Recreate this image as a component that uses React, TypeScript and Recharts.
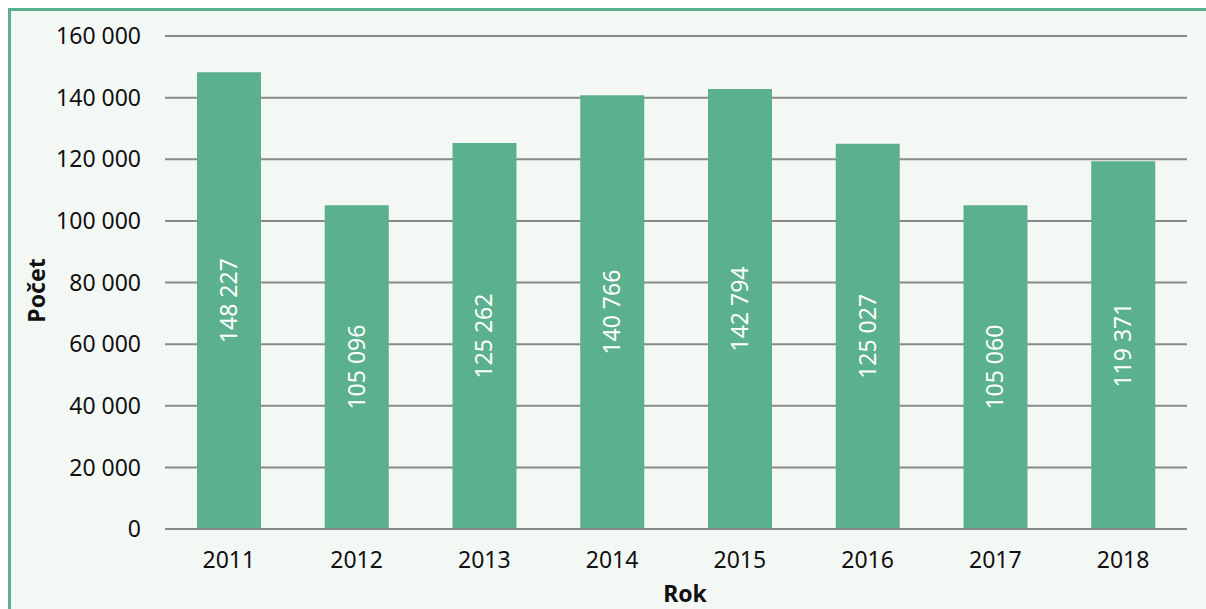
import React from 'react';
import { BarChart, Bar, XAxis, YAxis, CartesianGrid, LabelList, Label } from 'recharts';

const years = ['2011', '2012', '2013', '2014', '2015', '2016', '2017', '2018'];
const counts = [148227, 105096, 125262, 140766, 142794, 125027, 105060, 119371];
const yTicks = [0, 20000, 40000, 60000, 80000, 100000, 120000, 140000, 160000];

const data = years.map((y, i) => ({ year: y, count: counts[i] }));

const fmt = (v: number) => String(v).replace(/\B(?=(\d{3})+(?!\d))/g, ' ');

const FONT = '"Noto Sans", sans-serif';
const GREEN = '#5bb18d';

const BarValue = (props: any) => {
  const { x, y, width, height, value } = props;
  const cx = x + width / 2;
  const cy = y + height / 2;
  return (
    <text
      x={cx}
      y={cy}
      transform={`rotate(-90 ${cx} ${cy})`}
      textAnchor="middle"
      dy={8}
      fill="#ffffff"
      fontSize={23}
      fontFamily={FONT}
    >
      {fmt(value)}
    </text>
  );
};

const YLabel = (props: any) => {
  const vb = props.viewBox;
  const cx = vb.x + 34;
  const cy = vb.y + vb.height / 2 + 8;
  return (
    <text
      x={cx}
      y={cy}
      transform={`rotate(-90 ${cx} ${cy})`}
      textAnchor="middle"
      fontWeight="bold"
      fontSize={23}
      fill="#111"
      fontFamily={FONT}
    >
      Počet
    </text>
  );
};

const XLabel = (props: any) => {
  const vb = props.viewBox;
  return (
    <text
      x={vb.x + vb.width / 2 + 9}
      y={591}
      textAnchor="middle"
      fontWeight="bold"
      fontSize={23}
      fill="#111"
      fontFamily={FONT}
    >
      Rok
    </text>
  );
};

export default function App() {
  return (
    <div
      style={{
        position: 'fixed',
        left: 8,
        top: 8,
        right: 0,
        bottom: 0,
        overflow: 'hidden',
        borderTop: `3px solid ${GREEN}`,
        borderLeft: `3px solid ${GREEN}`,
        borderRight: 'none',
        borderBottom: 'none',
        background: '#f4f8f5',
        fontFamily: FONT,
      }}
    >
      <BarChart
        width={1195}
        height={598}
        data={data}
        margin={{ top: 25, right: 19, left: 0, bottom: 0 }}
        barSize={64}
      >
        <CartesianGrid vertical={false} stroke="#8a8a8a" strokeWidth={2} />
        <XAxis
          dataKey="year"
          axisLine={{ stroke: '#8a8a8a', strokeWidth: 2 }}
          tickLine={false}
          tickSize={0}
          tickMargin={23}
          height={80}
          tick={{ fontSize: 23, fill: '#111', fontFamily: FONT }}
        >
          <Label content={<XLabel />} />
        </XAxis>
        <YAxis
          width={154}
          domain={[0, 160000]}
          ticks={yTicks}
          tickFormatter={fmt}
          axisLine={false}
          tickLine={false}
          tickSize={0}
          tickMargin={24}
          tick={{ fontSize: 23, fill: '#111', fontFamily: FONT }}
        >
          <Label content={<YLabel />} />
        </YAxis>
        <Bar dataKey="count" fill={GREEN} isAnimationActive={false}>
          <LabelList dataKey="count" content={<BarValue />} />
        </Bar>
      </BarChart>
    </div>
  );
}
